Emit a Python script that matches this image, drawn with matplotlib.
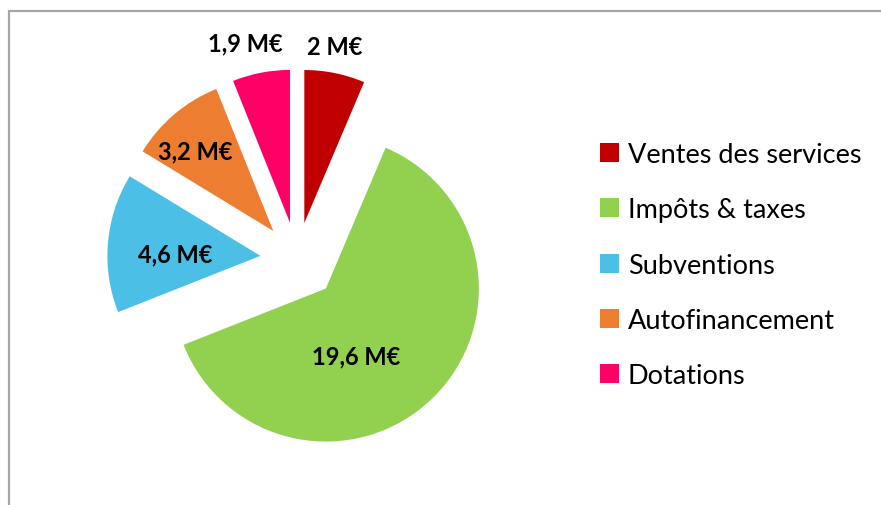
import matplotlib
matplotlib.use("Agg")
from matplotlib import pyplot as plt
from matplotlib.patches import Rectangle, Patch
import numpy as np

# data
categories = ["Ventes des services", "Impôts & taxes", "Subventions", "Autofinancement", "Dotations"]
values = [2, 19.6, 4.6, 3.2, 1.9]
value_labels = ["2 M€", "19,6 M€", "4,6 M€", "3,2 M€", "1,9 M€"]
colors = ["#C00000", "#92D050", "#4BBFE6", "#ED7D31", "#FF0066"]

# layout
W, H = 881, 506
cx, cy = 297, 260      # pie centre in pixels (from top-left)
R = 153                # radius in pixels
explode = [0.24, 0.27, 0.24, 0.24, 0.24]
lab_dist = [1.41, 0.74, 0.80, 0.97, 1.45]
lab_turn = [1.5, -13, 2.5, 3, 2.5]   # degrees

plt.rcParams['font.family'] = ['Lato', 'DejaVu Sans']

fig = plt.figure(figsize=(W / 100, H / 100), dpi=100)
ax = fig.add_axes([0, 0, 1, 1])

wedges, _ = ax.pie(values, colors=colors, startangle=90, counterclock=False,
                   explode=explode, radius=1, wedgeprops=dict(linewidth=0))
ax.set_aspect('auto')
ax.set_xlim(-cx / R, (W - cx) / R)
ax.set_ylim(-(H - cy) / R, cy / R)
ax.axis('off')

for w, lab, d, t in zip(wedges, value_labels, lab_dist, lab_turn):
    mid = np.deg2rad((w.theta1 + w.theta2) / 2 + t)
    ax.text(d * np.cos(mid), d * np.sin(mid), lab, ha='center', va='center',
            fontsize=17, fontweight='bold', color='black')

handles = [Patch(facecolor=c, edgecolor='none') for c in colors]
leg = fig.legend(handles, categories, loc='upper left', bbox_to_anchor=(600 / W, 1 - 143 / H),
                 frameon=False, fontsize=19.5, handlelength=0.7, handleheight=0.7,
                 handletextpad=0.32, labelspacing=1.12, borderaxespad=0, borderpad=0)
for txt in leg.get_texts():
    txt.set_color('black')

# chart border (cropped on right and bottom)
fig.patches.append(Rectangle((9 / W, -0.1), 1.2, 1 - 12 / H + 0.1,
                             transform=fig.transFigure, fill=False,
                             edgecolor='#A6A6A6', linewidth=1.6))

fig.savefig("out.png", dpi=100)
